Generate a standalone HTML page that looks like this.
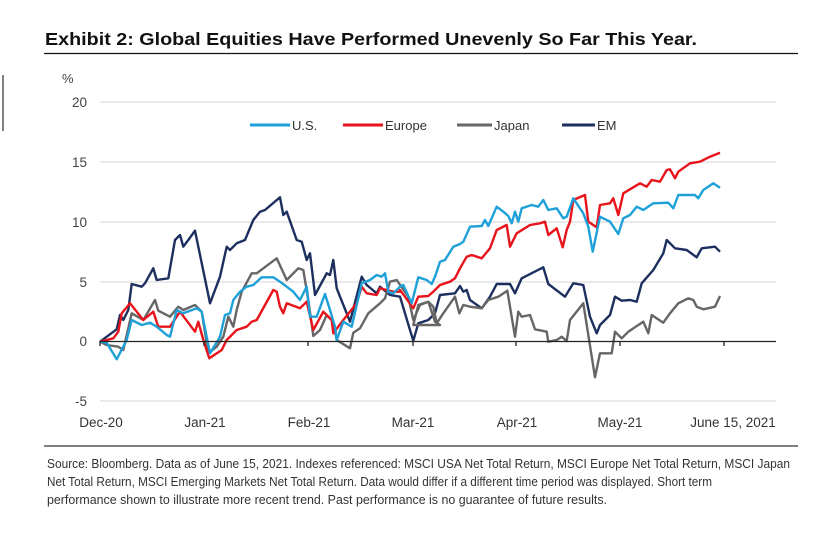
<!DOCTYPE html>
<html><head><meta charset="utf-8"><style>
html,body{margin:0;padding:0;background:#fff;}
svg{display:block;font-family:"Liberation Sans",sans-serif;}
</style></head><body>
<svg id="s" width="836" height="540" viewBox="0 0 836 540" xmlns="http://www.w3.org/2000/svg">
<rect width="836" height="540" fill="#fff"/>
<line x1="3" y1="75" x2="3" y2="131" stroke="#555" stroke-width="1.5"/>
<text x="45" y="45" font-size="17.5" font-weight="bold" fill="#111" textLength="652" lengthAdjust="spacingAndGlyphs">Exhibit 2: Global Equities Have Performed Unevenly So Far This Year.</text>
<line x1="44" y1="53.5" x2="798" y2="53.5" stroke="#111" stroke-width="1.3"/>
<text x="62" y="83" font-size="13" fill="#444">%</text>
<g stroke="#ddd" stroke-width="1.3">
<line x1="100" y1="102" x2="776" y2="102"/>
<line x1="100" y1="162" x2="776" y2="162"/>
<line x1="100" y1="222" x2="776" y2="222"/>
<line x1="100" y1="282" x2="776" y2="282"/>
<line x1="100" y1="401" x2="776" y2="401"/>
</g>
<g font-size="13.5" fill="#444" text-anchor="end">
<text x="87" y="107">20</text><text x="87" y="167">15</text><text x="87" y="227">10</text>
<text x="87" y="287">5</text><text x="87" y="346">0</text><text x="87" y="406">-5</text>
</g>
<g font-size="13.5" fill="#333" text-anchor="middle">
<text x="101" y="427">Dec-20</text><text x="205" y="427">Jan-21</text><text x="309" y="427">Feb-21</text>
<text x="413" y="427">Mar-21</text><text x="517" y="427">Apr-21</text><text x="620" y="427">May-21</text>
<text x="733" y="427">June 15, 2021</text>
</g>
<g id="series" fill="none" stroke-width="2.4" stroke-linejoin="round"></g>
<line x1="100" y1="341.5" x2="776" y2="341.5" stroke="#222" stroke-width="1.3"/>
<g stroke="#222" stroke-width="1.3">
<line x1="100" y1="341" x2="100" y2="346"/><line x1="204" y1="341" x2="204" y2="346"/>
<line x1="308" y1="341" x2="308" y2="346"/><line x1="413" y1="341" x2="413" y2="346"/>
<line x1="516" y1="341" x2="516" y2="346"/><line x1="620" y1="341" x2="620" y2="346"/>
<line x1="724" y1="341" x2="724" y2="346"/>
</g>
<g stroke-width="3">
<line x1="250" y1="125" x2="290" y2="125" stroke="#1ea0d8"/>
<line x1="343" y1="125" x2="383" y2="125" stroke="#e8131b"/>
<line x1="457" y1="125" x2="492" y2="125" stroke="#666"/>
<line x1="562" y1="125" x2="595" y2="125" stroke="#1c2f5e"/>
</g>
<g font-size="13" fill="#333">
<text x="292" y="130">U.S.</text><text x="385" y="130">Europe</text>
<text x="494" y="130">Japan</text><text x="597" y="130">EM</text>
</g>
<line x1="44" y1="446" x2="798" y2="446" stroke="#333" stroke-width="1.3"/>
<g font-size="12.5" fill="#333">
<text x="47" y="468" textLength="743" lengthAdjust="spacingAndGlyphs">Source: Bloomberg. Data as of June 15, 2021. Indexes referenced: MSCI USA Net Total Return, MSCI Europe Net Total Return, MSCI Japan</text>
<text x="47" y="486" textLength="665" lengthAdjust="spacingAndGlyphs">Net Total Return, MSCI Emerging Markets Net Total Return. Data would differ if a different time period was displayed. Short term</text>
<text x="47" y="504" textLength="560" lengthAdjust="spacingAndGlyphs">performance shown to illustrate more recent trend. Past performance is no guarantee of future results.</text>
</g>
</svg>
<script>
var D={
"#1c2f5e":[[120,605,170,568,180,525,190,540,205,510,215,432,245,440,255,430,280,385,290,420,325,415,345,300,360,285,370,320,385,300,405,272,450,490,480,410,500,320,510,330,530,310,555,300,580,240,600,215,615,210,660,172,670,225,680,215,710,300,725,305,740,360,750,340,765,465,800,400,810,405,820,360,830,445,870,545,905,410,920,435,950,460,960,440,990,465,1020,470],
[0,470,30,570,40,602,55,550,85,540,105,520,120,465,165,460,180,438,190,455,200,450,210,480,245,505,270,470,290,432,330,432,345,460,365,415,430,382,445,432,495,470,520,430,550,435,570,530,590,580,600,555,630,525,645,470,665,482,690,480,710,485,725,430,760,390,790,340,800,300,825,325,860,330,890,352,905,325,945,320,960,335]],
"#666666":[[120,605,140,615,175,620,190,630,215,520,250,540,285,480,295,512,330,530,355,500,370,510,405,495,425,515,445,640,470,620,490,590,505,530,520,560,530,510,545,455,575,400,590,400,650,355,680,420,715,385,730,390,745,480,760,588,780,570,800,525,820,545,830,600,870,625,880,578,900,565,925,520,960,490,975,475,990,425,1010,420,1045,470,1060,540,1080,495,1105,485,1125,545,1140,555],
[40,555,55,495,85,485,100,500,110,550,130,520,165,470,178,520,190,495,210,500,245,505,265,480,295,470,322,452,345,590,355,515,365,530,390,525,405,568,440,575,445,605,470,600,485,590,500,603,510,540,550,490,585,712,600,640,635,640,645,575,665,595,685,575,730,545,745,580,755,525,790,548,810,520,835,490,865,475,880,480,890,500,910,508,945,500,960,468]],
"#e8131b":[[120,605,160,595,175,575,185,520,210,490,250,540,280,515,295,560,330,560,360,515,405,575,415,545,430,600,448,655,485,630,500,600,530,570,560,560,575,545,590,540,640,450,650,455,660,500,670,520,680,490,720,505,740,485,760,570,790,515,815,540,820,580,850,540,890,490,905,440,920,460,950,465,960,445,1000,455,1020,455],
[0,450,15,470,40,505,55,470,85,468,100,455,120,435,150,425,165,415,180,385,200,350,215,345,245,355,270,325,290,270,320,255,330,320,350,280,390,255,420,250,435,245,445,285,470,265,488,322,500,270,510,245,520,180,555,165,565,245,590,262,600,195,630,190,640,175,655,225,670,160,720,130,740,140,755,120,780,125,800,90,810,88,825,115,835,95,870,70,900,65,930,50,960,38]],
"#1ea0d8":[[120,605,140,608,170,658,200,600,215,540,245,555,270,548,290,560,320,585,330,590,350,510,370,520,410,505,425,515,450,640,480,590,495,525,510,520,520,480,540,455,560,440,580,435,605,412,640,412,660,425,680,440,700,455,720,480,740,440,750,530,770,530,795,462,810,510,825,560,830,600,850,545,875,560,905,430,930,420,950,405,965,410,975,400,985,455,1000,460,1020,440],
[0,440,10,435,35,490,55,412,80,420,95,432,105,410,120,365,135,360,160,320,180,312,190,305,210,260,245,258,255,240,265,258,290,200,310,215,325,228,335,250,345,215,355,245,365,205,395,195,415,200,430,180,445,210,470,205,490,235,500,230,520,175,550,220,565,260,578,335,600,230,630,245,655,282,670,235,690,225,710,200,730,210,760,190,805,188,820,205,835,165,885,165,895,175,910,150,940,130,960,143]]
};
var g=document.getElementById("series"),ns="http://www.w3.org/2000/svg";
for(var c in D){var p=[];var a=D[c][0],b=D[c][1];
for(var i=0;i<a.length;i+=2)p.push((60+a[i]/3).toFixed(1)+","+(140+a[i+1]/3).toFixed(1));
for(var i=0;i<b.length;i+=2)p.push((400+b[i]/3).toFixed(1)+","+(140+b[i+1]/3).toFixed(1));
var e=document.createElementNS(ns,"polyline");e.setAttribute("points",p.join(" "));e.setAttribute("stroke",c);g.appendChild(e);}
</script>
</body></html>
